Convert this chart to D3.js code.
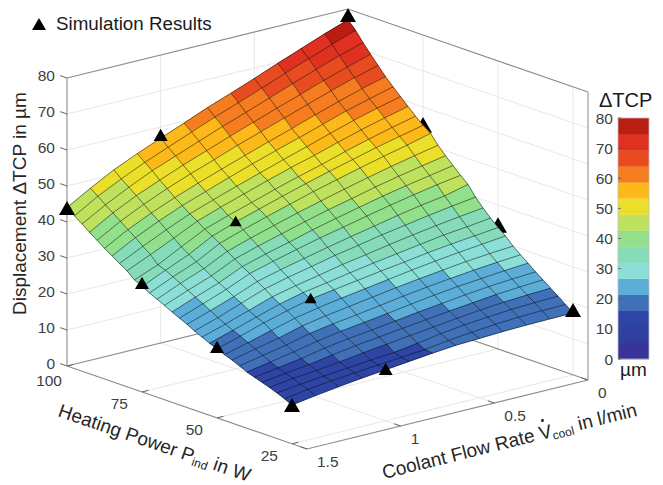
<!DOCTYPE html>
<html>
<head>
<meta charset="utf-8">
<title>Displacement TCP</title>
<script src="https://cdnjs.cloudflare.com/ajax/libs/d3/7.8.5/d3.min.js"></script>
<style>
  html, body { margin: 0; padding: 0; background: #fff; }
  svg { display: block; font-family: "Liberation Sans", Arial, sans-serif; }
  .tick-label { font-size: 15.5px; fill: #404040; }
  .axis-label { font-size: 19px; fill: #262626; }
</style>
</head>
<body>
<svg id="chart" width="663" height="485"></svg>
<script>
"use strict";

const powerTicks = [100, 75, 50, 25];
const flowTicks = [0, 0.5, 1, 1.5];
const zTicks = [0, 10, 20, 30, 40, 50, 60, 70, 80];

// mesh axes of the surface
const powerMesh = [100, 97.5, 95, 92.5, 90, 87.5, 85, 82.5, 80, 77.5, 75, 72.5, 70, 67.5, 65, 62.5,
  60, 57.5, 55, 52.5, 50, 47.5, 45, 42.5, 40, 37.5, 35, 32.5, 30, 27.5, 25];
const flowMesh = [0, 0.125, 0.25, 0.375, 0.5, 0.625, 0.75, 0.875, 1, 1.125, 1.25, 1.375, 1.5];

// one row per powerMesh entry, one value per flowMesh entry
const displacement = [
  [77, 74.7, 72.2, 69.7, 67.1, 64.6, 62.2, 59.5, 56.9, 54.2, 51.3, 47.8, 44],
  [74.8, 72.5, 70.1, 67.7, 65.1, 62.7, 60.3, 57.7, 55.1, 52.5, 49.5, 46.3, 42.4],
  [72.1, 70.1, 67.9, 65.5, 63.1, 60.7, 58.4, 55.9, 53.4, 50.9, 47.9, 44.6, 40.9],
  [69.6, 67.6, 65.5, 63.2, 61, 58.7, 56.4, 54, 51.6, 49, 46.3, 43.1, 39.3],
  [67.2, 65.4, 63.4, 61.2, 59, 56.8, 54.6, 52.2, 49.9, 47.4, 44.6, 41.5, 37.8],
  [64.8, 63.1, 61.1, 59, 56.8, 54.7, 52.5, 50.3, 48, 45.6, 42.9, 39.9, 36.3],
  [62.7, 61, 59.2, 57.1, 55, 53, 50.9, 48.7, 46.4, 44.1, 41.4, 38.4, 34.9],
  [60.7, 59.1, 57.3, 55.3, 53.2, 51.2, 49.1, 47, 44.8, 42.5, 39.7, 36.7, 33.5],
  [58.7, 57.1, 55.4, 53.5, 51.5, 49.7, 47.7, 45.6, 43.5, 41.2, 38.1, 35.1, 32.2],
  [56.7, 55.2, 53.5, 51.7, 49.7, 47.9, 46, 43.9, 41.9, 39.7, 36.4, 33, 30.4],
  [54.9, 53.4, 51.9, 50.2, 48.5, 46.7, 44.8, 42.8, 40.8, 38.5, 35, 32.2, 29.3],
  [53.4, 51.7, 50.2, 48.6, 46.9, 45.2, 43.3, 41.4, 39.4, 37.2, 33.7, 31.1, 28.2],
  [50.8, 49.5, 48.1, 46.6, 45, 43.3, 41.6, 39.7, 37.8, 35.7, 32.5, 30, 27.2],
  [48.6, 47.4, 46.1, 44.7, 43.1, 41.6, 39.9, 38.1, 36.3, 34.3, 31.2, 28.8, 26.2],
  [46.6, 45.4, 44.2, 42.9, 41.4, 39.9, 38.3, 36.5, 34.8, 32.9, 30, 27.6, 25.1],
  [44.6, 43.6, 42.4, 41.1, 39.7, 38.2, 36.8, 35.2, 33.5, 31.7, 28.9, 26.5, 24.1],
  [42.8, 41.2, 40.2, 39, 37.6, 36.3, 34.9, 33.4, 31.9, 30.2, 27.6, 25.3, 23.1],
  [40, 39.1, 38.1, 37, 35.9, 34.6, 33.4, 31.9, 30.5, 28.9, 26.5, 24.1, 22],
  [37.7, 36.9, 36, 35, 33.9, 32.7, 31.6, 30.2, 28.9, 27.4, 25.2, 23, 21],
  [35.6, 34.8, 34.1, 33.1, 32.1, 31.1, 30, 28.8, 27.7, 26.1, 24.1, 22, 20],
  [33.7, 33, 32.3, 31.5, 30.5, 29.6, 28.6, 27.6, 26.6, 25, 23.2, 21.1, 19.2],
  [32.1, 31.4, 30.7, 29.9, 29, 28, 27, 26, 24.9, 23.6, 21.8, 20, 18.3],
  [30, 29.5, 28.9, 28.1, 27.3, 26.4, 25.4, 24.4, 23.4, 22.2, 20.4, 19, 17.5],
  [28.3, 27.8, 27.2, 26.5, 25.7, 24.8, 23.8, 22.8, 21.9, 20.8, 19.2, 17.9, 16.6],
  [26.7, 26.2, 25.6, 25, 24.2, 23.3, 22.3, 21.4, 20.5, 19.4, 18, 16.8, 15.6],
  [25, 24.6, 24.1, 23.4, 22.6, 21.8, 20.9, 20, 19.2, 18.2, 16.9, 15.9, 14.9],
  [23.5, 23.1, 22.6, 21.9, 21.2, 20.4, 19.6, 18.8, 18, 17, 15.9, 15.1, 14.2],
  [21.9, 21.6, 21.2, 20.6, 19.9, 19.1, 18.3, 17.5, 16.7, 15.8, 15, 14.4, 13.5],
  [20.4, 20.2, 19.9, 19.4, 18.8, 18, 16.9, 15.95, 15.4, 14.8, 14.2, 13.5, 12.7],
  [18.8, 18.7, 18.5, 18.1, 17.5, 16.8, 15.9, 15.3, 14.8, 14.2, 13.6, 12.8, 11.8],
  [17.2, 17.1, 17, 16.8, 16.5, 16.2, 15.6, 14.9, 14.2, 13.5, 12.7, 11.8, 10.8]
];

// simulation runs: [power, flow, displacement]
const runsBehind = [[75, 0, 55], [50, 0, 34.4]];
const runsCorner = [[100, 0, 78.3], [25, 0, 18], [100, 1.5, 43.9], [25, 1.5, 10.8]];
const runsEdge = [[100, 1, 57.8], [75, 1.5, 30.3], [50, 1.5, 19.7], [25, 1, 14.4]];
const runsInner = [[75, 1, 41.1], [50, 1, 26.9]];

const levelColors = ["#3a3399", "#2e3f9f", "#2e45a5", "#4071b8", "#5cadd8", "#8cdfd6", "#86dcb9", "#92e08b",
  "#bee25e", "#ebdf29", "#fdb91a", "#f57c1f", "#e94b20", "#e0301f", "#bb1d12"];

const chart = d3.select("#chart");

// the box is an orthographic view, so each data axis just moves the point along a fixed direction
const originX = 348, originY = 297;
const powerX = d3.scaleLinear().domain([100, 20]).range([0, 240]);
const powerY = d3.scaleLinear().domain([100, 20]).range([0, 83]);
const flowX = d3.scaleLinear().domain([0, 1.5]).range([0, -281]);
const flowY = d3.scaleLinear().domain([0, 1.5]).range([0, 69]);
const heightY = d3.scaleLinear().domain([0, 80]).range([0, -288]);
const color = d3.scaleQuantize().domain([0, 80]).range(levelColors);

const pMin = 20, pMax = 100, fMin = 0, fMax = 1.5, zMax = 80;

function project(p, f, z) {
  return [originX + powerX(p) + flowX(f), originY + powerY(p) + flowY(f) + heightY(z)];
}

const line3 = d3.line();

function segment(g, pts, stroke, width) {
  g.append("path")
    .attr("d", line3(pts))
    .attr("fill", "none")
    .attr("stroke", stroke)
    .attr("stroke-width", width);
}

function drawBox() {
  const g = chart.append("g");
  const grid = "#e7e7e7";

  // walls and floor grid
  zTicks.slice(1, -1).forEach(z => {
    segment(g, [project(pMax, fMax, z), project(pMax, fMin, z), project(pMin, fMin, z)], grid, 1);
  });
  [0.5, 1].forEach(f => {
    segment(g, [project(pMax, f, 0), project(pMax, f, zMax)], grid, 1);
    segment(g, [project(pMax, f, 0), project(pMin, f, 0)], grid, 1);
  });
  [75, 50, 25].forEach(p => {
    segment(g, [project(p, fMin, 0), project(p, fMin, zMax)], grid, 1);
    segment(g, [project(p, fMin, 0), project(p, fMax, 0)], grid, 1);
  });

  // box outline
  const edge = "#8c8c8c";
  segment(g, [project(pMax, fMax, zMax), project(pMax, fMin, zMax), project(pMin, fMin, zMax)], edge, 1.2);
  segment(g, [project(pMax, fMax, 0), project(pMax, fMin, 0), project(pMin, fMin, 0)], edge, 1.2);
  segment(g, [project(pMax, fMax, 0), project(pMin, fMax, 0), project(pMin, fMin, 0)], edge, 1.2);
  segment(g, [project(pMax, fMax, 0), project(pMax, fMax, zMax)], "#a6a6a6", 1.4);
  segment(g, [project(pMin, fMin, 0), project(pMin, fMin, zMax)], "#b4b4b4", 1.6);
}

function drawTicks() {
  const g = chart.append("g");
  const tick = "#666";

  zTicks.forEach(z => {
    const [x, y] = project(pMax, fMax, z);
    segment(g, [[x, y], [x - 7, y - 2.4]], tick, 1);
    g.append("text").attr("class", "tick-label")
      .attr("x", 55).attr("y", y - 2.5)
      .attr("text-anchor", "end").attr("dominant-baseline", "central")
      .text(z);
  });

  powerTicks.forEach(p => {
    const [x, y] = project(p, fMax, 0);
    segment(g, [[x, y], [x + 6.5, y - 1.6]], tick, 1);
    g.append("text").attr("class", "tick-label")
      .attr("x", p === 100 ? x - 5 : x - 14).attr("y", y + (p === 100 ? 14 : 12))
      .attr("text-anchor", "end").attr("dominant-baseline", "central")
      .text(p);
  });

  flowTicks.forEach(f => {
    const [x, y] = project(pMin, f, 0);
    segment(g, [[x, y], [x - 6.5, y - 2.2]], tick, 1);
    g.append("text").attr("class", "tick-label")
      .attr("x", x + 10).attr("y", y + 12.5)
      .attr("dominant-baseline", "central")
      .text(f);
  });
}

function drawSurface() {
  const cells = [];
  powerMesh.slice(0, -1).forEach((p, i) => {
    flowMesh.slice(0, -1).forEach((f, j) => {
      cells.push({
        pts: [
          project(p, f, displacement[i][j]),
          project(p, flowMesh[j + 1], displacement[i][j + 1]),
          project(powerMesh[i + 1], flowMesh[j + 1], displacement[i + 1][j + 1]),
          project(powerMesh[i + 1], f, displacement[i + 1][j])
        ],
        // flat shading takes the colour from one corner of the cell
        value: displacement[i + 1][j]
      });
    });
  });

  const g = chart.append("g");
  g.selectAll(".cell").data(cells).enter()
    .append("path")
    .attr("class", "cell")
    .attr("d", d => line3(d.pts) + "Z")
    .attr("fill", d => color(d.value))
    .attr("stroke", d => color(d.value))
    .attr("stroke-width", 0.6);

  const mesh = "rgba(0,0,0,0.6)";
  powerMesh.forEach((p, i) => {
    segment(g, flowMesh.map((f, j) => project(p, f, displacement[i][j])), mesh, 0.85);
  });
  flowMesh.forEach((f, j) => {
    segment(g, powerMesh.map((p, i) => project(p, f, displacement[i][j])), mesh, 0.85);
  });
}

function triangle(size) {
  const h = size * 0.87;
  return `M0,${-h / 2}L${size / 2},${h / 2}L${-size / 2},${h / 2}Z`;
}

function drawRuns(runs, size) {
  chart.append("g").selectAll("path").data(runs).enter()
    .append("path")
    .attr("d", triangle(size))
    .attr("transform", d => `translate(${project(d[0], d[1], d[2])})`)
    .attr("fill", "#000");
}

function drawColorbar() {
  const g = chart.append("g");
  const barY = d3.scaleLinear().domain([0, 80]).range([359, 118]);
  const step = 80 / levelColors.length;
  const x0 = 618, w = 31;

  g.selectAll("rect").data(levelColors).enter()
    .append("rect")
    .attr("x", x0).attr("width", w)
    .attr("y", (d, i) => barY((i + 1) * step))
    .attr("height", (d, i) => barY(i * step) - barY((i + 1) * step) + 0.3)
    .attr("fill", d => d);
  g.append("rect")
    .attr("x", x0).attr("y", 118).attr("width", w).attr("height", 241)
    .attr("fill", "none").attr("stroke", "#bdbdbd").attr("stroke-width", 0.8);

  zTicks.forEach(z => {
    segment(g, [[x0, barY(z)], [x0 + 3, barY(z)]], "#555", 0.8);
    g.append("text").attr("class", "tick-label")
      .attr("x", 613).attr("y", barY(z))
      .attr("text-anchor", "end").attr("dominant-baseline", "central")
      .text(z);
  });

  g.append("text").attr("x", 599).attr("y", 107).attr("font-size", 20).attr("fill", "#1a1a1a").text("ΔTCP");
  g.append("text").attr("x", 620).attr("y", 376).attr("font-size", 19).attr("fill", "#1a1a1a").text("µm");
}

function drawLabels() {
  chart.append("text").attr("class", "axis-label")
    .attr("transform", "translate(26,315) rotate(-90)")
    .text("Displacement ΔTCP in µm");

  const power = chart.append("text").attr("class", "axis-label")
    .attr("transform", "translate(57,416) rotate(19)");
  power.append("tspan").text("Heating Power P");
  power.append("tspan").attr("font-size", 12).attr("dy", 3).text("ind");
  power.append("tspan").attr("dy", -3).text(" in W");

  const flow = chart.append("g").attr("transform", "translate(384,479) rotate(-14)");
  const flowText = flow.append("text").attr("class", "axis-label");
  flowText.append("tspan").text("Coolant Flow Rate V");
  flowText.append("tspan").attr("font-size", 12).attr("dy", 3).text("cool");
  flowText.append("tspan").attr("dy", -3).text(" in l/min");

  // dot over the V for the flow rate
  const v = flowText.node().getExtentOfChar(18);
  flow.append("circle")
    .attr("cx", v.x + v.width / 2).attr("cy", -18.5).attr("r", 1.5)
    .attr("fill", "#262626");

  chart.append("path").attr("d", triangle(14)).attr("transform", "translate(39,24)").attr("fill", "#000");
  chart.append("text").attr("x", 56).attr("y", 30).attr("font-size", 18.8).attr("fill", "#1a1a1a")
    .text("Simulation Results");
}

drawBox();
drawTicks();
drawRuns(runsBehind, 18);
drawSurface();
drawRuns(runsCorner, 16);
drawRuns(runsEdge, 14);
drawRuns(runsInner, 12);
drawColorbar();
drawLabels();
</script>
</body>
</html>
